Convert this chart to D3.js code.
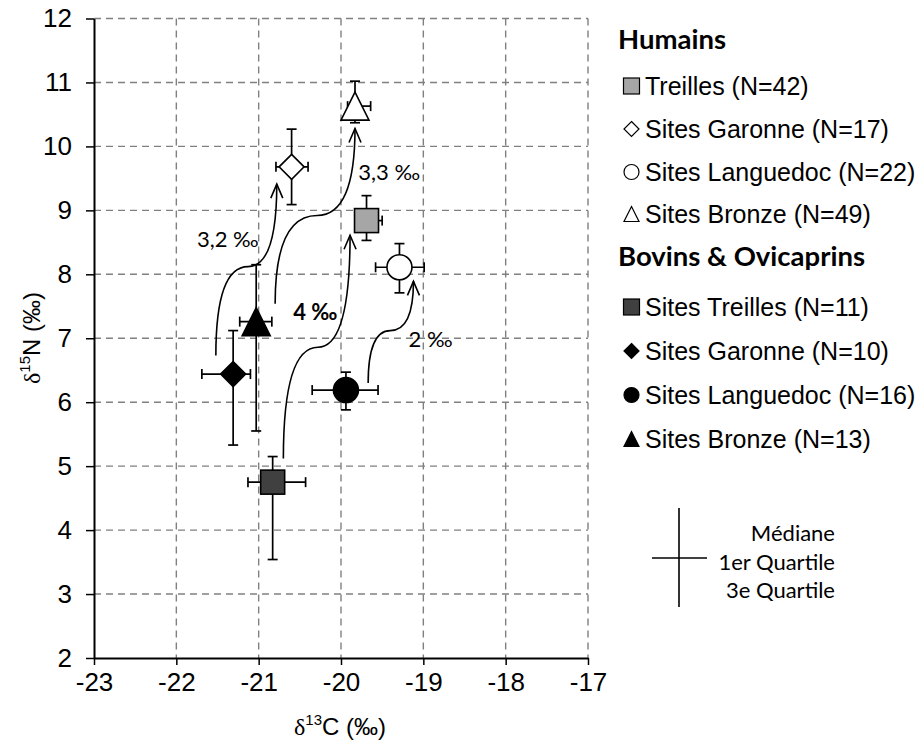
<!DOCTYPE html>
<html><head><meta charset="utf-8">
<script src="https://cdn.jsdelivr.net/npm/d3@7"></script>
<style>body{margin:0;background:#fff}</style>
</head><body><svg id="c" width="923" height="744"></svg>
<script>
// ---------------- DATA ----------------
const groups = ["Humains", "Bovins & Ovicaprins"];
const seriesNames = ["Treilles (N=42)", "Sites Garonne (N=17)", "Sites Languedoc (N=22)", "Sites Bronze (N=49)",
                     "Sites Treilles (N=11)", "Sites Garonne (N=10)", "Sites Languedoc (N=16)", "Sites Bronze (N=13)"];
const seriesGroup = [0, 0, 0, 0, 1, 1, 1, 1];
const shapes = ["square", "diamond", "circle", "triangle", "square", "diamond", "circle", "triangle"];
const fills  = ["#a6a6a6", "#ffffff", "#ffffff", "#ffffff", "#404040", "#000000", "#000000", "#000000"];
// medians and quartiles (‰)
const medC = [-19.69, -20.60, -19.29, -19.83, -20.83, -21.31, -19.94, -21.03];
const medN = [8.84, 9.68, 8.11, 10.63, 4.75, 6.44, 6.19, 7.26];
const q1C  = [-19.78, -20.79, -19.58, -19.92, -21.13, -21.69, -20.35, -21.23];
const q3C  = [-19.50, -20.40, -18.99, -19.64, -20.43, -21.10, -19.55, -20.84];
const q1N  = [8.53, 9.09, 7.71, 10.37, 3.54, 5.33, 5.88, 5.55];
const q3N  = [9.23, 10.27, 8.48, 11.02, 5.15, 7.12, 6.47, 8.15];

const xTicks = [-23, -22, -21, -20, -19, -18, -17];
const yTicks = [2, 3, 4, 5, 6, 7, 8, 9, 10, 11, 12];

// annotation arrows (data coordinates)
const arrowLabels = ["3,2 ‰", "3,3 ‰", "4 ‰", "2 ‰"];
const arrowBold   = [false, false, true, false];
const arrowStartC = [-21.52, -20.80, -20.70, -19.67];
const arrowStartN = [6.73, 7.54, 5.12, 6.30];
const arrowMidC   = [-21.13, -20.29, -20.28, -19.40];
const arrowMidN   = [8.12, 8.92, 6.86, 7.12];
const arrowEndC   = [-20.78, -19.83, -19.89, -19.12];
const arrowEndN   = [9.41, 10.28, 8.61, 7.89];
const labelC      = [-21.75, -19.79, -20.58, -19.18];
const labelN      = [8.43, 9.47, 7.29, 6.87];

const keyLabels = ["Médiane", "1er Quartile", "3e Quartile"];

// ---------------- CHART ----------------
const svg = d3.select("#c");
const arial = "'Liberation Sans', Arial, sans-serif";
const calibri = "Lato, Carlito, 'Open Sans', sans-serif";
const x = d3.scaleLinear().domain([-23, -17]).range([94, 588]);
const y = d3.scaleLinear().domain([2, 12]).range([658, 18.5]);

// grid
const grid = svg.append("g").attr("stroke", "#808080").attr("stroke-width", 1.4).attr("stroke-dasharray", "7,5");
grid.selectAll("line.v").data(xTicks.slice(1)).join("line")
  .attr("x1", d => x(d)).attr("x2", d => x(d)).attr("y1", y(12)).attr("y2", y(2));
grid.selectAll("line.h").data(yTicks.slice(1)).join("line")
  .attr("x1", x(-23)).attr("x2", x(-17)).attr("y1", d => y(d)).attr("y2", d => y(d));

// axes
const xAxis = svg.append("g").attr("transform", `translate(0,${y(2)})`)
  .call(d3.axisBottom(x).tickValues(xTicks).tickSize(7).tickSizeOuter(0).tickPadding(8).tickFormat(d3.format("d")));
const yAxis = svg.append("g").attr("transform", `translate(${x(-23)},0)`)
  .call(d3.axisLeft(y).tickValues(yTicks).tickSize(8).tickSizeOuter(0).tickPadding(14).tickFormat(d3.format("d")));
[xAxis, yAxis].forEach(a => {
  a.select(".domain").attr("stroke", "#000").attr("stroke-width", 2);
  a.selectAll(".tick line").attr("stroke", "#000").attr("stroke-width", 1.5);
  a.selectAll(".tick text").attr("fill", "#000").style("font-family", arial).style("font-size", "26px");
});
xAxis.selectAll(".tick text").text(d => d < 0 ? "-" + Math.abs(d) : d);

// axis titles
const xt = svg.append("text").attr("x", 340).attr("y", 735).attr("text-anchor", "middle")
  .style("font-family", arial).style("font-size", "24px").attr("fill", "#000");
xt.append("tspan").style("font-family", "'Liberation Serif', serif").text("δ");
xt.append("tspan").attr("dy", -10).style("font-size", "15px").text("13");
xt.append("tspan").attr("dy", 10).text("C (‰)");
const yt = svg.append("text").attr("transform", `translate(40,338) rotate(-90)`).attr("text-anchor", "middle")
  .style("font-family", arial).style("font-size", "24px").attr("fill", "#000");
yt.append("tspan").style("font-family", "'Liberation Serif', serif").text("δ");
yt.append("tspan").attr("dy", -10).style("font-size", "15px").text("15");
yt.append("tspan").attr("dy", 10).text("N (‰)");

// arrows
const arr = svg.append("g").attr("fill", "none").attr("stroke", "#000").attr("stroke-width", 1.6);
arrowLabels.forEach((lab, i) => {
  const x0 = x(arrowStartC[i]), y0 = y(arrowStartN[i]);
  const xm = x(arrowMidC[i]), ym = y(arrowMidN[i]);
  const x1 = x(arrowEndC[i]), y1 = y(arrowEndN[i]);
  const p = d3.path();
  p.moveTo(x0, y0);
  p.quadraticCurveTo(x0, ym, xm, ym);
  p.quadraticCurveTo(x1, ym, x1, y1);
  arr.append("path").attr("d", p.toString());
  const h = d3.path();
  h.moveTo(x1 - 6, y1 + 14); h.lineTo(x1, y1); h.lineTo(x1 + 6, y1 + 14);
  arr.append("path").attr("d", h.toString());
  svg.append("text").attr("x", x(labelC[i])).attr("y", y(labelN[i]))
    .style("font-family", calibri).style("font-size", "22px").style("font-weight", arrowBold[i] ? 700 : 400)
    .attr("fill", "#000").text(lab);
});

// marker shapes
function drawShape(g, shape, cx, cy, s, fill, sw) {
  let el;
  if (shape === "square") el = g.append("rect").attr("x", cx - s / 2).attr("y", cy - s / 2).attr("width", s).attr("height", s);
  else if (shape === "circle") el = g.append("circle").attr("cx", cx).attr("cy", cy).attr("r", s / 2);
  else if (shape === "diamond") el = g.append("path").attr("d", `M${cx},${cy - s / 2}L${cx + s / 2},${cy}L${cx},${cy + s / 2}L${cx - s / 2},${cy}Z`);
  else el = g.append("path").attr("d", `M${cx},${cy - s / 2}L${cx + s / 2},${cy + s / 2}L${cx - s / 2},${cy + s / 2}Z`);
  el.attr("fill", fill).attr("stroke", "#000").attr("stroke-width", sw);
}

// error bars
const eb = svg.append("g").attr("stroke", "#000").attr("stroke-width", 1.7);
seriesNames.forEach((n, i) => {
  const cx = x(medC[i]), cy = y(medN[i]);
  eb.append("line").attr("x1", x(q1C[i])).attr("x2", x(q3C[i])).attr("y1", cy).attr("y2", cy);
  eb.append("line").attr("x1", cx).attr("x2", cx).attr("y1", y(q1N[i])).attr("y2", y(q3N[i]));
  [q1C[i], q3C[i]].forEach(v => eb.append("line").attr("x1", x(v)).attr("x2", x(v)).attr("y1", cy - 5).attr("y2", cy + 5));
  [q1N[i], q3N[i]].forEach(v => eb.append("line").attr("x1", cx - 5).attr("x2", cx + 5).attr("y1", y(v)).attr("y2", y(v)));
});
const mk = svg.append("g");
const sizes = {square: 24, diamond: 25, circle: 25, triangle: 28};
seriesNames.forEach((n, i) => drawShape(mk, shapes[i], x(medC[i]), y(medN[i]), sizes[shapes[i]], fills[i], 1.6));

// legend
const lg = svg.append("g");
const headerY = [49, 266];
const rowY = [95, 138, 181, 223, 316, 360, 404, 448];
groups.forEach((g, gi) => {
  lg.append("text").attr("x", 618).attr("y", headerY[gi]).style("font-family", calibri)
    .style("font-size", "27.5px").style("font-weight", 700).attr("fill", "#000").text(g);
});
seriesNames.forEach((n, i) => {
  const cy = rowY[i] - 9;
  const s = shapes[i] === "square" ? 16 : 15;
  drawShape(lg, shapes[i], 631.5, cy, s, fills[i], 1.2);
  lg.append("text").attr("x", 645).attr("y", rowY[i]).style("font-family", arial)
    .style("font-size", "25px").attr("fill", "#000").text(n);
});

// quartile key
const key = svg.append("g").attr("stroke", "#000").attr("stroke-width", 1.6);
key.append("line").attr("x1", 679).attr("x2", 679).attr("y1", 508).attr("y2", 607);
key.append("line").attr("x1", 652).attr("x2", 707).attr("y1", 558).attr("y2", 558);
const keyY = [541, 570, 598];
keyLabels.forEach((t, i) => svg.append("text").attr("x", 835).attr("y", keyY[i]).attr("text-anchor", "end")
  .style("font-family", calibri).style("font-size", "22px").attr("fill", "#000").text(t));
</script></body></html>
